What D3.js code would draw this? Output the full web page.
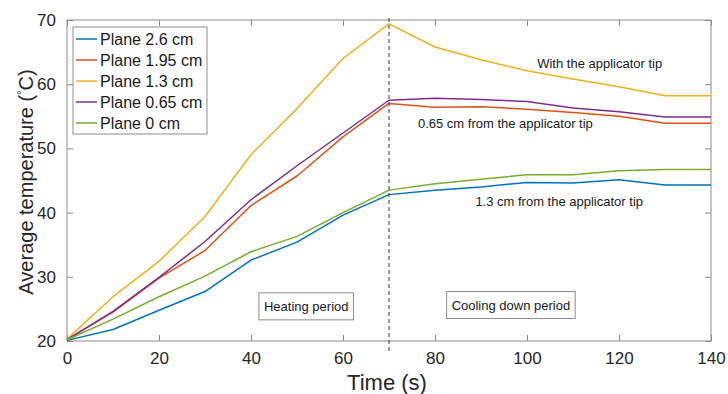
<!DOCTYPE html>
<html>
<head>
<meta charset="utf-8" />
<script src="https://cdn.jsdelivr.net/npm/d3@7"></script>
<style>
  body { margin: 0; background: #fff; }
  svg { font-family: "Liberation Sans", Arial, sans-serif; }
  .tick text { fill: #262626; }
</style>
</head>
<body>
<svg width="728" height="394"></svg>
<script>
// time points (s)
var times = [0, 10, 20, 30, 40, 50, 60, 70, 80, 90, 100, 110, 120, 130, 140];

// average temperature per plane (°C)
var plane26 = [20.1, 21.8, 24.8, 27.7, 32.6, 35.4, 39.6, 42.8, 43.5, 44.0, 44.7, 44.6, 45.1, 44.3, 44.3];
var plane195 = [20.2, 24.5, 29.8, 34.1, 41.1, 45.7, 51.8, 57.0, 56.4, 56.5, 56.1, 55.6, 55.0, 53.9, 53.9];
var plane13 = [20.3, 26.9, 32.4, 39.4, 49.0, 56.2, 64.0, 69.4, 65.8, 63.8, 62.1, 60.8, 59.6, 58.2, 58.2];
var plane065 = [20.2, 24.6, 29.9, 35.5, 42.0, 47.3, 52.4, 57.5, 57.8, 57.6, 57.3, 56.3, 55.7, 54.9, 54.9];
var plane0 = [20.2, 23.4, 26.9, 30.1, 33.9, 36.3, 40.0, 43.5, 44.5, 45.2, 45.9, 45.9, 46.5, 46.7, 46.7];

var seriesNames = ['Plane 2.6 cm', 'Plane 1.95 cm', 'Plane 1.3 cm', 'Plane 0.65 cm', 'Plane 0 cm'];
var seriesValues = [plane26, plane195, plane13, plane065, plane0];
var colors = ['#0072BD', '#D95319', '#EDB120', '#7E2F8E', '#77AC30'];

var xTicks = [0, 20, 40, 60, 80, 100, 120, 140];
var yTicks = [20, 30, 40, 50, 60, 70];
var switchTime = 70;

// text notes, anchored at (time, temperature) centre / baseline
var notes = [
  { text: 'With the applicator tip', t: 115.8, v: 62.6 },
  { text: '0.65 cm from the applicator tip', t: 95.3, v: 53.1 },
  { text: '1.3 cm from the applicator tip', t: 107, v: 41.0 }
];
var periods = [
  { text: 'Heating period', t: 52.0, v: 25.4 },
  { text: 'Cooling down period', t: 96.5, v: 25.6 }
];

var margin = { left: 67, top: 20 };
var width = 644, height = 321;

var svg = d3.select('svg');
var g = svg.append('g').attr('transform', 'translate(' + margin.left + ',' + margin.top + ')');

var x = d3.scaleLinear().domain([0, 140]).range([0, width]);
var y = d3.scaleLinear().domain([20, 70]).range([height, 0]);

var axisColor = '#8c8c8c';
var tickLen = 6;

// axes with inward ticks on all four sides
function styleAxis(sel) {
  sel.select('.domain').remove();
  sel.selectAll('.tick line').attr('stroke', axisColor);
  sel.selectAll('.tick text').style('font-size', '17px');
}
g.append('g').attr('transform', 'translate(0,' + height + ')')
  .call(d3.axisBottom(x).tickValues(xTicks).tickSizeInner(-tickLen).tickPadding(11).tickFormat(d3.format('d')))
  .call(styleAxis);
g.append('g')
  .call(d3.axisLeft(y).tickValues(yTicks).tickSizeInner(-tickLen).tickPadding(11).tickFormat(d3.format('d')))
  .call(styleAxis);
g.append('g')
  .call(d3.axisTop(x).tickValues(xTicks).tickSizeInner(-tickLen).tickFormat(''))
  .call(styleAxis);
g.append('g').attr('transform', 'translate(' + width + ',0)')
  .call(d3.axisRight(y).tickValues(yTicks).tickSizeInner(-tickLen).tickFormat(''))
  .call(styleAxis);

g.append('rect')
  .attr('width', width).attr('height', height)
  .attr('fill', 'none').attr('stroke', axisColor).attr('stroke-width', 1);

// lines
var line = d3.line()
  .x(function (d, i) { return x(times[i]); })
  .y(function (d) { return y(d); });

g.selectAll('.series')
  .data(seriesValues)
  .enter().append('path')
  .attr('class', 'series')
  .attr('d', function (d) { return line(d); })
  .attr('fill', 'none')
  .attr('stroke', function (d, i) { return colors[i]; })
  .attr('stroke-width', 1.5)
  .attr('stroke-linejoin', 'round');

// heating / cooling boundary
g.append('line')
  .attr('x1', x(switchTime)).attr('x2', x(switchTime))
  .attr('y1', -2).attr('y2', height + 11)
  .attr('stroke', '#3a3a3a').attr('stroke-width', 1)
  .attr('stroke-dasharray', '4,3');

// annotations
g.selectAll('.note')
  .data(notes)
  .enter().append('text')
  .attr('class', 'note')
  .attr('x', function (d) { return x(d.t); })
  .attr('y', function (d) { return y(d.v); })
  .attr('text-anchor', 'middle')
  .style('font-size', '13px')
  .attr('fill', '#1a1a1a')
  .text(function (d) { return d.text; });

var pg = g.selectAll('.period')
  .data(periods)
  .enter().append('g')
  .attr('class', 'period')
  .attr('transform', function (d) { return 'translate(' + x(d.t) + ',' + y(d.v) + ')'; });
pg.append('text')
  .attr('text-anchor', 'middle')
  .attr('dy', '0.35em')
  .style('font-size', '13px')
  .attr('fill', '#1a1a1a')
  .text(function (d) { return d.text; });
pg.insert('rect', 'text')
  .each(function () {
    var bb = this.parentNode.querySelector('text').getBBox();
    d3.select(this)
      .attr('x', bb.x - 5).attr('y', -13.5)
      .attr('width', bb.width + 10).attr('height', 27);
  })
  .attr('fill', '#fff').attr('stroke', '#8c8c8c');

// legend
var legend = svg.append('g').attr('transform', 'translate(73,27)');
legend.append('rect')
  .attr('width', 134).attr('height', 107)
  .attr('fill', '#fff').attr('stroke', '#8c8c8c');
var items = legend.selectAll('.item')
  .data(seriesNames)
  .enter().append('g')
  .attr('transform', function (d, i) { return 'translate(0,' + (12 + i * 21) + ')'; });
items.append('line')
  .attr('x1', 3).attr('x2', 24)
  .attr('stroke', function (d, i) { return colors[i]; })
  .attr('stroke-width', 1.5);
items.append('text')
  .attr('x', 27).attr('dy', '0.35em')
  .style('font-size', '16px')
  .attr('fill', '#1a1a1a')
  .text(function (d) { return d; });

// axis titles
svg.append('text')
  .attr('x', 387).attr('y', 390)
  .attr('text-anchor', 'middle')
  .style('font-size', '22px')
  .attr('fill', '#262626')
  .text('Time (s)');

var yl = svg.append('text')
  .attr('transform', 'translate(33,182) rotate(-90)')
  .attr('text-anchor', 'middle')
  .style('font-size', '20px')
  .attr('fill', '#262626');
yl.append('tspan').text('Average temperature (');
yl.append('tspan').attr('dy', -8).style('font-size', '11px').text('\u00B0');
yl.append('tspan').attr('dy', 8).text('C)');
</script>
</body>
</html>
